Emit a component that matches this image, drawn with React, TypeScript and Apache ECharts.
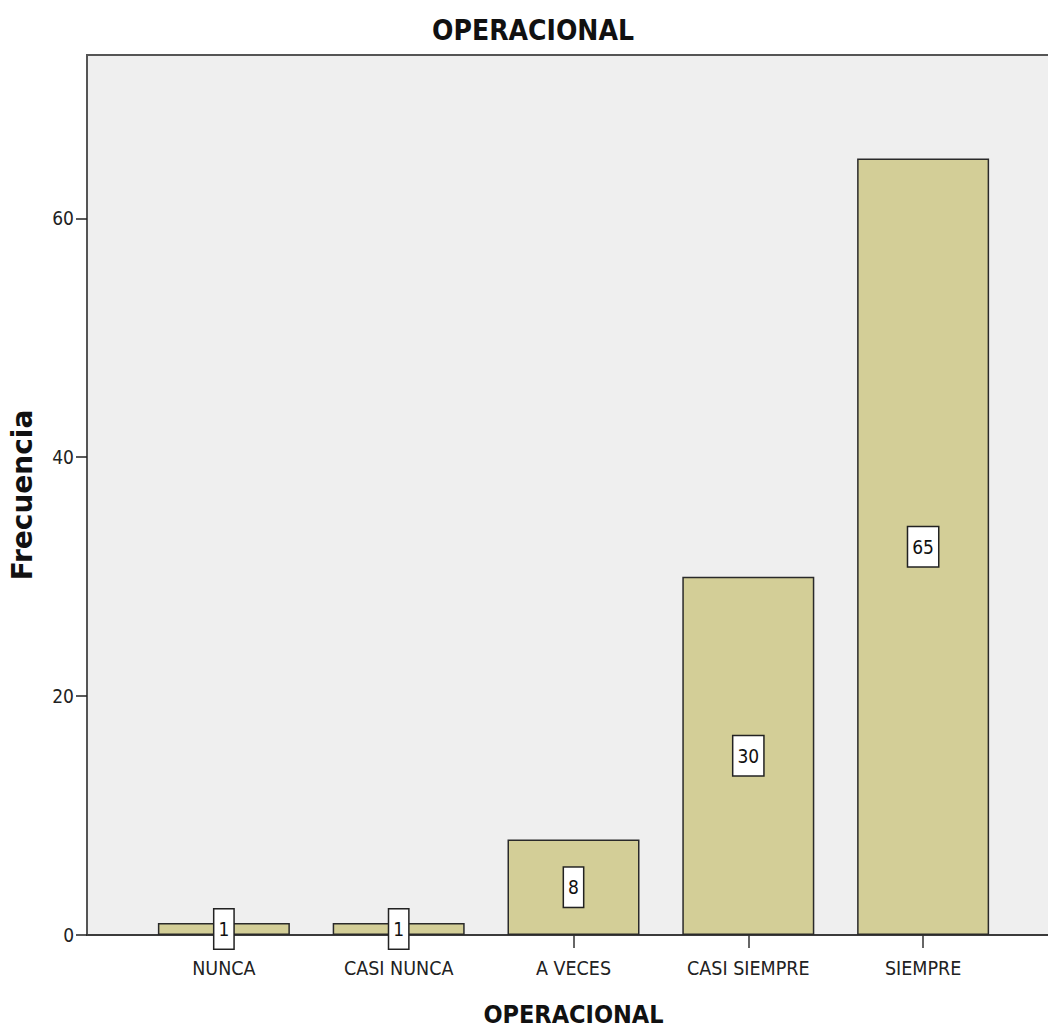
import React, { useEffect, useRef } from "react";
import * as echarts from "echarts";

// Frequency table for the OPERACIONAL variable
const categories = ["NUNCA", "CASI NUNCA", "A VECES", "CASI SIEMPRE", "SIEMPRE"];
const frequencies = [1, 1, 8, 30, 65];
const yTicks = [0, 20, 40, 60];

const NARROW = '"Liberation Sans Narrow", "DejaVu Sans Condensed", "Arial Narrow", sans-serif';

export default function App() {
  const ref = useRef<HTMLDivElement>(null);

  useEffect(() => {
    if (!ref.current) return;
    const chart = echarts.init(ref.current, null, { renderer: "svg" });
    const positions = categories.map((_, i) => i);

    chart.setOption({
      animation: false,
      backgroundColor: "#ffffff",
      title: {
        text: "OPERACIONAL",
        left: 528,
        textAlign: "center",
        top: 11,
        textStyle: { fontFamily: NARROW, fontWeight: "bold", fontSize: 28, color: "#111" },
      },
      grid: {
        left: 85,
        top: 55,
        right: 2,
        bottom: 93,
        show: true,
        backgroundColor: "#efefef",
        borderColor: "#555",
        borderWidth: 2,
      },
      xAxis: {
        type: "value",
        min: -0.783,
        max: 4.783,
        name: "OPERACIONAL",
        nameLocation: "middle",
        nameGap: 67,
        nameTextStyle: { fontFamily: NARROW, fontWeight: "bold", fontSize: 25, color: "#111" },
        splitLine: { show: false },
        axisLine: { show: true, onZero: false, lineStyle: { color: "#333", width: 1.5 } },
        axisTick: { show: true, customValues: positions, length: 13, lineStyle: { color: "#333", width: 1.5 } },
        axisLabel: {
          customValues: positions,
          formatter: (v: number) => categories[Math.round(v)] ?? "",
          margin: 23,
          fontFamily: NARROW,
          fontSize: 19.5,
          color: "#222",
        },
      },
      yAxis: {
        type: "value",
        min: 0,
        max: 73.67,
        name: "Frecuencia",
        nameLocation: "middle",
        nameRotate: 90,
        nameGap: 51,
        nameTextStyle: { fontFamily: '"DejaVu Sans", sans-serif', fontWeight: "bold", fontSize: 28, color: "#111" },
        splitLine: { show: false },
        axisLine: { show: true, onZero: false, lineStyle: { color: "#555", width: 2 } },
        axisTick: { show: true, customValues: yTicks, length: 11, lineStyle: { color: "#222", width: 1.5 } },
        axisLabel: {
          customValues: yTicks,
          margin: 13,
          fontFamily: NARROW,
          fontSize: 19,
          color: "#222",
        },
      },
      series: [
        {
          type: "bar",
          barWidth: 132,
          data: frequencies.map((v, i) => [i, v]),
          itemStyle: { color: "#d3ce97", borderColor: "#2a2a2a", borderWidth: 1.5 },
          label: {
            show: true,
            position: "inside",
            formatter: (p: any) => String(p.value[1]),
            fontFamily: NARROW,
            fontSize: 19,
            color: "#111",
            backgroundColor: "#ffffff",
            borderColor: "#222",
            borderWidth: 1.5,
            padding: [10, 4],
          },
        },
      ],
    });

    return () => chart.dispose();
  }, []);

  // The plot frame runs past the right edge, so the chart is wider than its clipping box
  return (
    <div style={{ position: "absolute", left: 0, top: 0, width: 1048, height: 1032, overflow: "hidden" }}>
      <div ref={ref} style={{ width: 1062, height: 1032 }} />
    </div>
  );
}
